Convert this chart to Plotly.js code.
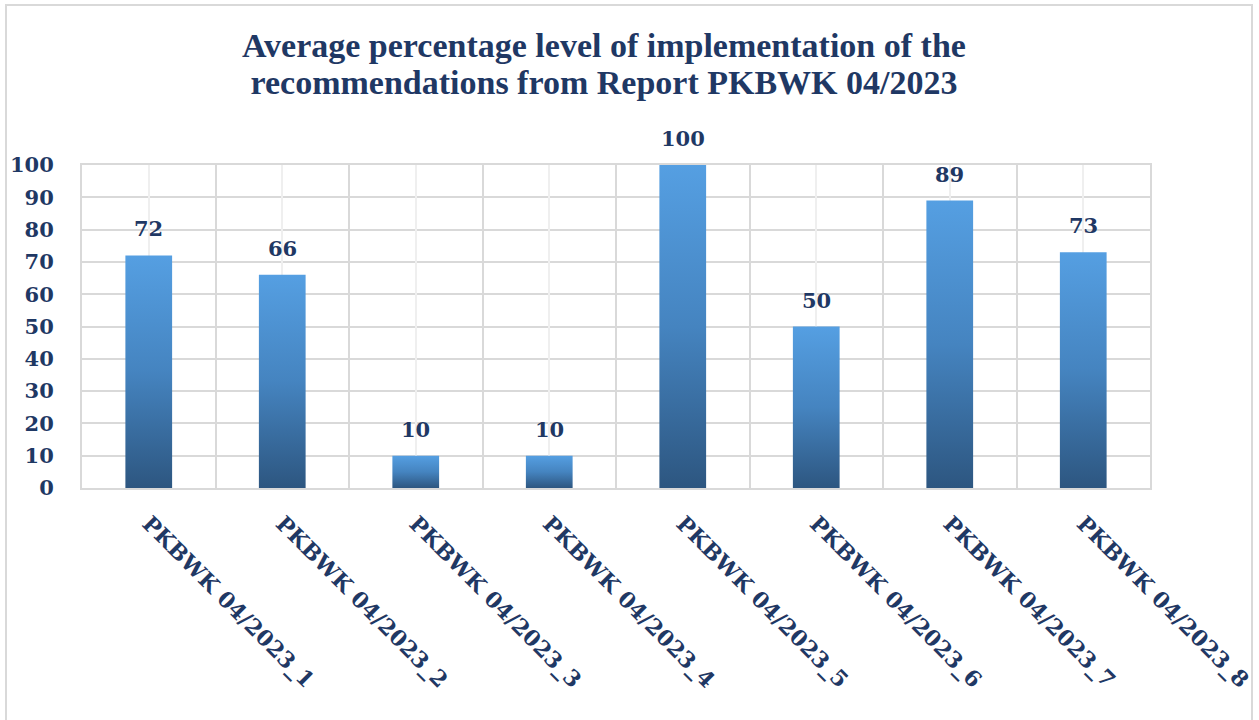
<!DOCTYPE html>
<html>
<head>
<meta charset="utf-8">
<script src="https://cdn.plot.ly/plotly-3.0.1.min.js"></script>
<style>
  html, body { margin: 0; padding: 0; background: #ffffff; }
  #wrap { position: relative; width: 1259px; height: 720px; overflow: hidden; }
  #chart { position: absolute; left: 0; top: 0; width: 1259px; height: 720px; }
  #frame { position: absolute; left: 5px; top: 4px; width: 1248px; height: 740px;
           border: 2px solid #d9d9d9; pointer-events: none; box-sizing: border-box; }
</style>
</head>
<body>
<div id="wrap">
  <div id="chart"></div>
  <div id="frame"></div>
</div>
<script>
const categories = [
  "PKBWK 04/2023_1", "PKBWK 04/2023_2", "PKBWK 04/2023_3", "PKBWK 04/2023_4",
  "PKBWK 04/2023_5", "PKBWK 04/2023_6", "PKBWK 04/2023_7", "PKBWK 04/2023_8"
];
const values = [72, 66, 10, 10, 100, 50, 89, 73];
const yTicks = [0, 10, 20, 30, 40, 50, 60, 70, 80, 90, 100];
const titleLines = [
  "Average percentage level of implementation of the",
  "recommendations from Report PKBWK 04/2023"
];

const navy = "#1f3864";
const serif = "DejaVu Serif, serif";

const traces = [
  {
    type: "bar",
    x: categories,
    y: values,
    xaxis: "x",
    yaxis: "y",
    marker: { color: "#4a8ccc", line: { width: 0 } },
    hoverinfo: "x+y",
    showlegend: false
  },
  {
    type: "scatter",
    mode: "none",
    x: categories,
    y: values,
    xaxis: "x2",
    yaxis: "y",
    hoverinfo: "skip",
    showlegend: false
  }
];

const annotations = categories.map((c, i) => ({
  x: c,
  y: values[i],
  xref: "x",
  yref: "y",
  text: "<b>" + values[i] + "</b>",
  showarrow: false,
  yanchor: "bottom",
  yshift: 12,
  font: { family: serif, size: 21, color: navy }
}));

const layout = {
  width: 1259,
  height: 720,
  margin: { l: 82, r: 109, t: 165, b: 232 },
  paper_bgcolor: "#ffffff",
  plot_bgcolor: "#ffffff",
  bargap: 0.65,
  title: {
    text: "<b>" + titleLines.join("<br>") + "</b>",
    x: 604 / 1259,
    xref: "container",
    xanchor: "center",
    y: 1 - 57 / 720,
    yref: "container",
    yanchor: "top",
    font: { family: "Liberation Serif, serif", size: 34, color: navy }
  },
  xaxis: {
    type: "category",
    categoryorder: "array",
    categoryarray: categories,
    range: [-0.5, 7.5],
    tickson: "boundaries",
    showgrid: true,
    gridcolor: "#d9d9d9",
    gridwidth: 2,
    showline: true,
    linecolor: "#d9d9d9",
    linewidth: 2,
    mirror: true,
    ticks: "",
    tickangle: 45,
    ticklabelstandoff: 12,
    tickfont: { family: serif, size: 22, color: navy, weight: "bold" },
    zeroline: false,
    fixedrange: true
  },
  xaxis2: {
    type: "category",
    categoryorder: "array",
    categoryarray: categories,
    range: [-0.5, 7.5],
    overlaying: "x",
    side: "bottom",
    showgrid: true,
    gridcolor: "#efefef",
    gridwidth: 2,
    showticklabels: false,
    ticks: "",
    showline: false,
    zeroline: false,
    fixedrange: true
  },
  yaxis: {
    range: [0, 100],
    tickvals: yTicks,
    ticktext: yTicks.map(String),
    showgrid: true,
    gridcolor: "#d9d9d9",
    gridwidth: 2,
    showline: true,
    linecolor: "#d9d9d9",
    linewidth: 2,
    mirror: true,
    zeroline: false,
    ticks: "",
    ticklabelstandoff: 22,
    tickfont: { family: serif, size: 21, color: navy, weight: "bold" },
    fixedrange: true
  },
  annotations: annotations
};

function applyStyling(gd) {
  const svg = gd.querySelector("svg.main-svg");
  if (!svg) return;
  let defs = svg.querySelector("defs");
  if (!defs) {
    defs = document.createElementNS("http://www.w3.org/2000/svg", "defs");
    svg.insertBefore(defs, svg.firstChild);
  }
  if (!svg.querySelector("#barGrad")) {
    const lg = document.createElementNS("http://www.w3.org/2000/svg", "linearGradient");
    lg.setAttribute("id", "barGrad");
    lg.setAttribute("x1", "0"); lg.setAttribute("y1", "0");
    lg.setAttribute("x2", "0"); lg.setAttribute("y2", "1");
    [["0", "#559fe2"], ["0.5", "#4584c0"], ["1", "#2d5680"]].forEach(([o, c]) => {
      const s = document.createElementNS("http://www.w3.org/2000/svg", "stop");
      s.setAttribute("offset", o);
      s.setAttribute("stop-color", c);
      lg.appendChild(s);
    });
    defs.appendChild(lg);
  }
  gd.querySelectorAll(".barlayer .point path").forEach(p => {
    p.style.fill = "url(#barGrad)";
  });
  // tighten title line spacing to match the reference (~37px between baselines)
  gd.querySelectorAll(".gtitle tspan.line").forEach(t => {
    const dy = t.getAttribute("dy");
    if (dy && dy.endsWith("em")) {
      const v = parseFloat(dy);
      if (v > 0) t.setAttribute("dy", (v * 37 / 44.2).toFixed(3) + "em");
    }
  });
}

Plotly.newPlot("chart", traces, layout, { displayModeBar: false, staticPlot: true })
  .then(gd => applyStyling(gd));
</script>
</body>
</html>
